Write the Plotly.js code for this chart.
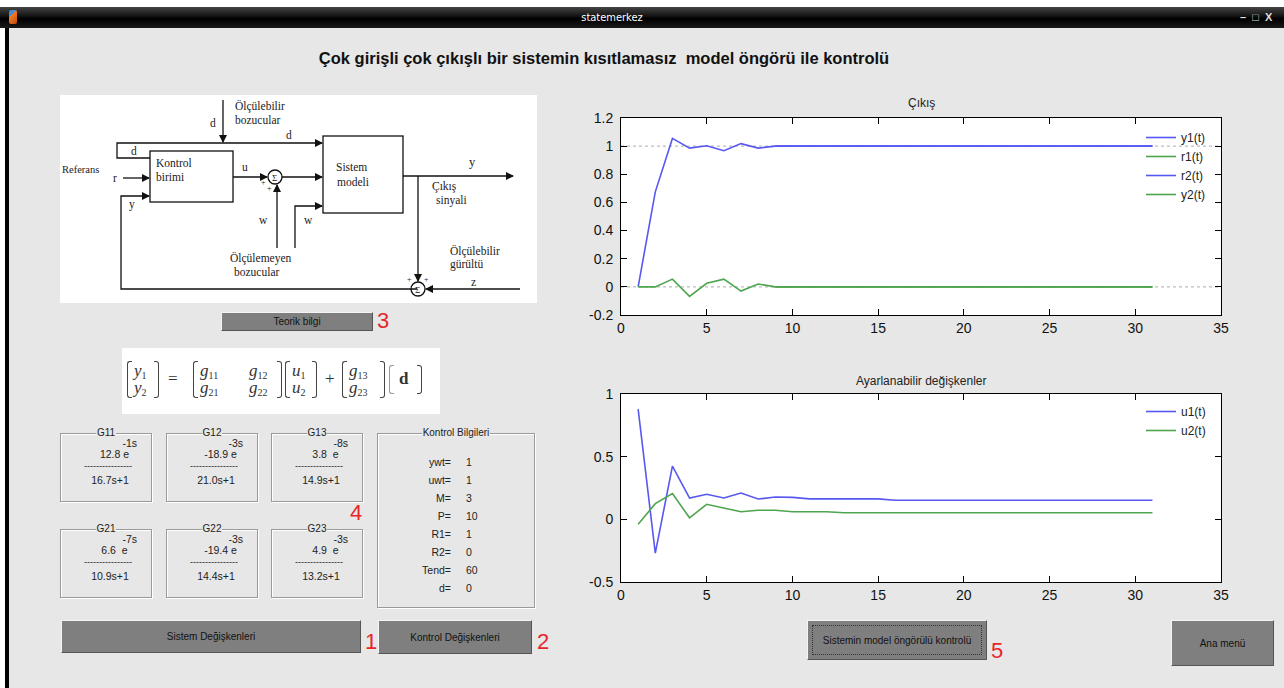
<!DOCTYPE html>
<html><head><meta charset="utf-8">
<script src="https://cdn.plot.ly/plotly-3.0.1.min.js"></script>
<style>
html,body{margin:0;padding:0;}
body{width:1284px;height:688px;position:relative;overflow:hidden;background:#e7e7e7;font-family:"Liberation Sans",Arial,sans-serif;}
.abs{position:absolute;}
#topwhite{left:0;top:0;width:1284px;height:7px;background:#fff;}
#titlebar{left:0;top:7px;width:1284px;height:21px;background:linear-gradient(#444 0%,#111 45%,#000 55%,#1a1a1a 100%);}
#titletext{left:0;top:7px;width:1224px;height:21px;line-height:21px;text-align:center;color:#fff;font-size:11px;font-family:"DejaVu Sans Condensed","Liberation Sans Narrow",sans-serif;}
#leftwhite{left:0;top:28px;width:5px;height:660px;background:#fff;}
#leftblack{left:5px;top:28px;width:4px;height:660px;background:#000;}
#heading{left:0;top:49px;width:1208px;text-align:center;font-size:16.5px;font-weight:bold;color:#111;white-space:pre;}
.btn{background:#7f7f7f;border-top:1px solid #f4f4f4;border-left:1px solid #f4f4f4;border-right:1px solid #555;border-bottom:1px solid #555;box-sizing:border-box;color:#111;font-size:10px;text-align:center;display:flex;align-items:center;justify-content:center;}
.red{color:#e8262a;font-size:22px;font-family:"Liberation Sans",Arial,sans-serif;}
.grp{border:1px solid #9a9a9a;box-shadow:1px 1px 0 #fff inset,1px 1px 0 #fff;box-sizing:border-box;}
.grpt{position:absolute;top:-7px;left:0;width:100%;text-align:center;font-size:10px;line-height:12px;color:#222;}
.grpt span{background:#e7e7e7;padding:0 1px;}
.gt{position:absolute;font-size:10.5px;color:#222;line-height:11px;white-space:pre;}
#diag{left:60px;top:95px;width:477px;height:208px;background:#fff;}
#eqbox{left:122px;top:348px;width:318px;height:66px;background:#fff;}
.br{position:absolute;border:1.4px solid #444;box-sizing:border-box;}
.bl{border-right:none;width:5px;border-radius:3px 0 0 3px;}
.bR{border-left:none;width:5px;border-radius:0 3px 3px 0;}
.cell{position:absolute;font-family:"Liberation Serif","DejaVu Serif",serif;font-style:italic;font-size:17px;color:#333;line-height:16px;}
.cell sub{font-size:10px;font-style:normal;vertical-align:-3px;}
#plot{left:0;top:0;width:1284px;height:688px;}
</style></head>
<body>
<div class="abs" id="topwhite"></div>
<div class="abs" id="titlebar"></div>
<div class="abs" style="left:9px;top:10px;width:8px;height:14px;background:linear-gradient(135deg,#4a8ad0 0%,#4a8ad0 35%,#f07b21 36%,#c04a10 100%);border-radius:2px;"></div>
<div class="abs" id="titletext">statemerkez</div>
<div class="abs" style="left:1240px;top:11px;width:40px;height:14px;color:#ddd;font-size:11px;font-weight:bold;">&#8211;&nbsp;&nbsp;&#9633;&nbsp;&nbsp;X</div>
<div class="abs" id="leftwhite"></div>
<div class="abs" id="leftblack"></div>
<div class="abs" id="heading"></div>

<div class="abs" id="diag">
<svg width="477" height="208" viewBox="0 0 477 208" xmlns="http://www.w3.org/2000/svg" font-family="Liberation Serif, DejaVu Serif, serif" font-size="11.5" fill="#222">
<defs><marker id="ar" markerWidth="8" markerHeight="8" refX="7" refY="4" orient="auto" markerUnits="userSpaceOnUse"><path d="M0,0 L8,4 L0,8 z" fill="#111"/></marker></defs>
<g stroke="#111" stroke-width="1.3" fill="none">
<rect x="90" y="56" width="83" height="51"/>
<rect x="263" y="41" width="80" height="77"/>
<line x1="163" y1="5" x2="163" y2="47" marker-end="url(#ar)"/>
<polyline points="90,63 57,63 57,48 262,48" marker-end="url(#ar)"/>
<line x1="63" y1="83" x2="89" y2="83" marker-end="url(#ar)"/>
<polyline points="357,194 61,194 61,101 89,101" marker-end="url(#ar)"/>
<line x1="173" y1="82" x2="207" y2="82" marker-end="url(#ar)"/>
<circle cx="215" cy="82" r="7"/>
<line x1="222" y1="82" x2="262" y2="82" marker-end="url(#ar)"/>
<line x1="217" y1="153" x2="217" y2="90" marker-end="url(#ar)"/>
<polyline points="235,153 235,111 262,111" marker-end="url(#ar)"/>
<line x1="343" y1="81" x2="453" y2="81" marker-end="url(#ar)"/>
<line x1="358" y1="81" x2="358" y2="186" marker-end="url(#ar)"/>
<circle cx="358" cy="194" r="7"/>
<line x1="460" y1="194" x2="366" y2="194" marker-end="url(#ar)"/>
</g>
<text x="212" y="86" font-size="9">&#931;</text>
<text x="355" y="198" font-size="9">&#931;</text>
<text x="201" y="90" font-size="8">+</text>
<text x="207" y="96" font-size="8">+</text>
<text x="347" y="187" font-size="8">+</text>
<text x="364" y="187" font-size="8">+</text>
<text x="175" y="15">Ölçülebilir</text>
<text x="175" y="29">bozucular</text>
<text x="150" y="32">d</text>
<text x="226" y="44">d</text>
<text x="71" y="60">d</text>
<text x="2" y="78" font-size="10.5">Referans</text>
<text x="53" y="87">r</text>
<text x="69" y="113">y</text>
<text x="96" y="72">Kontrol</text>
<text x="96" y="86">birimi</text>
<text x="182" y="76">u</text>
<text x="276" y="76">Sistem</text>
<text x="277" y="91">modeli</text>
<text x="409" y="71" font-size="12.5">y</text>
<text x="372" y="95">Çıkış</text>
<text x="376" y="109">sinyali</text>
<text x="199" y="129">w</text>
<text x="244" y="129">w</text>
<text x="170" y="167">Ölçülemeyen</text>
<text x="174" y="181">bozucular</text>
<text x="390" y="160">Ölçülebilir</text>
<text x="390" y="173">gürültü</text>
<text x="411" y="191">z</text>
</svg>
</div>

<div class="abs btn" style="left:221px;top:312px;width:152px;height:19px;">Teorik bilgi</div>
<div class="abs red" style="left:377px;top:308px;">3</div>

<div class="abs" id="eqbox">
  <div class="br bl" style="left:5px;top:13px;height:37px;"></div>
  <div class="cell" style="left:12px;top:15px;">y<sub>1</sub></div>
  <div class="cell" style="left:12px;top:32px;">y<sub>2</sub></div>
  <div class="br bR" style="left:32px;top:13px;height:37px;"></div>
  <div class="cell" style="left:46px;top:23px;font-style:normal;">=</div>
  <div class="br bl" style="left:71px;top:13px;height:37px;"></div>
  <div class="cell" style="left:78px;top:15px;">g<sub>11</sub></div>
  <div class="cell" style="left:78px;top:32px;">g<sub>21</sub></div>
  <div class="cell" style="left:127px;top:15px;">g<sub>12</sub></div>
  <div class="cell" style="left:127px;top:32px;">g<sub>22</sub></div>
  <div class="br bR" style="left:155px;top:13px;height:37px;"></div>
  <div class="br bl" style="left:163px;top:13px;height:37px;"></div>
  <div class="cell" style="left:170px;top:15px;">u<sub>1</sub></div>
  <div class="cell" style="left:170px;top:32px;">u<sub>2</sub></div>
  <div class="br bR" style="left:190px;top:13px;height:37px;"></div>
  <div class="cell" style="left:203px;top:23px;font-style:normal;">+</div>
  <div class="br bl" style="left:220px;top:13px;height:37px;"></div>
  <div class="cell" style="left:227px;top:15px;">g<sub>13</sub></div>
  <div class="cell" style="left:227px;top:32px;">g<sub>23</sub></div>
  <div class="br bR" style="left:258px;top:13px;height:37px;"></div>
  <div class="br bl" style="left:267px;top:17px;height:29px;border-color:#999;"></div>
  <div class="cell" style="left:277px;top:23px;font-style:normal;font-weight:bold;">d</div>
  <div class="br bR" style="left:295px;top:17px;height:29px;"></div>
</div>

<div id="gboxes"></div>
<div class="abs red" style="left:350px;top:500px;">4</div>

<div class="abs btn" style="left:61px;top:620px;width:300px;height:33px;">Sistem Değişkenleri</div>
<div class="abs red" style="left:365px;top:629px;">1</div>
<div class="abs btn" style="left:378px;top:620px;width:154px;height:34px;">Kontrol Değişkenleri</div>
<div class="abs red" style="left:537px;top:629px;">2</div>
<div class="abs btn" style="left:807px;top:620px;width:180px;height:40px;"><div style="border:1px dotted #333;position:absolute;left:4px;top:4px;right:4px;bottom:4px;"></div>Sistemin model öngörülü kontrolü</div>
<div class="abs red" style="left:991px;top:638px;">5</div>
<div class="abs btn" style="left:1171px;top:620px;width:103px;height:46px;">Ana menü</div>

<div class="abs" id="plot"></div>

<script>
// ---------- GUI text data ----------
const headingText = "Çok girişli çok çıkışlı bir sistemin kısıtlamasız  model öngörü ile kontrolü";
const gNames  = ["G11","G12","G13","G21","G22","G23"];
const gGains  = ["12.8 e","-18.9 e","3.8  e","6.6  e","-19.4 e","4.9  e"];
const gDelays = ["-1s","-3s","-8s","-7s","-3s","-3s"];
const gDens   = ["16.7s+1","21.0s+1","14.9s+1","10.9s+1","14.4s+1","13.2s+1"];
const kbLabels = ["ywt=","uwt=","M=","P=","R1=","R2=","Tend=","d="];
const kbValues = ["1","1","3","10","1","0","60","0"];

// ---------- chart data ----------
const t = [1,2,3,4,5,6,7,8,9,10,11,12,13,14,15,16,17,18,19,20,21,22,23,24,25,26,27,28,29,30,31];
const y1 = [0,0.675,1.055,0.986,1.003,0.968,1.018,0.986,1.0,1,1,1,1,1,1,1,1,1,1,1,1,1,1,1,1,1,1,1,1,1,1];
const r1 = [null,null,null,null,null,null,null,null,0,0,0,0,0,0,0,0,0,0,0,0,0,0,0,0,0,0,0,0,0,0,0];
const r2 = [null,null,null,null,null,null,null,null,1,1,1,1,1,1,1,1,1,1,1,1,1,1,1,1,1,1,1,1,1,1,1];
const y2 = [0,0,0.055,-0.068,0.025,0.055,-0.03,0.02,0,0,0,0,0,0,0,0,0,0,0,0,0,0,0,0,0,0,0,0,0,0,0];
const refX = [0,35];
const refHigh = [1,1];
const refLow = [0,0];
const u1 = [0.88,-0.27,0.425,0.17,0.2,0.17,0.21,0.162,0.178,0.175,0.163,0.163,0.163,0.163,0.163,0.152,0.152,0.152,0.152,0.152,0.152,0.152,0.152,0.152,0.152,0.152,0.152,0.152,0.152,0.152,0.152];
const u2 = [-0.04,0.125,0.205,0.012,0.12,0.088,0.06,0.072,0.072,0.061,0.061,0.061,0.053,0.053,0.053,0.053,0.053,0.053,0.053,0.053,0.053,0.053,0.053,0.053,0.053,0.053,0.053,0.053,0.053,0.053,0.053];
const xTicks = [0,5,10,15,20,25,30,35];
const yTicks1 = [-0.2,0,0.2,0.4,0.6,0.8,1,1.2];
const yTickText1 = ["-0.2","0","0.2","0.4","0.6","0.8","1","1.2"];
const yTicks2 = [-0.5,0,0.5,1];
const yTickText2 = ["-0.5","0","0.5","1"];
const title1 = "Çıkış";
const title2 = "Ayarlanabilir değişkenler";

// ---------- build GUI ----------
document.getElementById('heading').textContent = headingText;
const gb = document.getElementById('gboxes');
const boxPos = [[60,433],[166,433],[271,433],[60,529],[166,529],[271,529]];
gNames.forEach((n,i)=>{
  const d=document.createElement('div');
  d.className='abs grp';
  d.style.left=boxPos[i][0]+'px'; d.style.top=boxPos[i][1]+'px';
  d.style.width='92px'; d.style.height='69px';
  d.innerHTML='<div class="grpt"><span>'+n+'</span></div>'+
    '<div class="gt" style="left:0;width:76px;text-align:right;top:4px;">'+gDelays[i]+'</div>'+
    '<div class="gt" style="left:0;width:107px;text-align:center;top:15px;">'+gGains[i]+'</div>'+
    '<div class="gt" style="left:23px;top:28px;font-size:9px;line-height:9px;">----------------</div>'+
    '<div class="gt" style="left:0;width:98px;text-align:center;top:41px;">'+gDens[i]+'</div>';
  gb.appendChild(d);
});
const kb=document.createElement('div');
kb.className='abs grp';
kb.style.cssText='left:377px;top:433px;width:158px;height:175px;';
let kbHtml='<div class="grpt"><span>Kontrol Bilgileri</span></div>';
kbLabels.forEach((l,i)=>{
  kbHtml+='<div class="gt" style="left:0;width:73px;text-align:right;top:'+(23+i*18)+'px;">'+l+'</div>';
  kbHtml+='<div class="gt" style="left:88px;top:'+(23+i*18)+'px;">'+kbValues[i]+'</div>';
});
kb.innerHTML=kbHtml;
gb.appendChild(kb);

// ---------- chart ----------
const W=1284,H=688;
const fx=p=>p/W, fy=p=>1-p/H;
const BLUE='#5757f2', GREEN='#4ea54e';
const traces=[
  {x:refX,y:refHigh,xaxis:'x',yaxis:'y',mode:'lines',line:{color:'#bdbdbd',width:1.2,dash:'dot'},showlegend:false,hoverinfo:'skip'},
  {x:refX,y:refLow,xaxis:'x',yaxis:'y',mode:'lines',line:{color:'#bdbdbd',width:1.2,dash:'dot'},showlegend:false,hoverinfo:'skip'},
  {x:t,y:y1,name:'y1(t)',xaxis:'x',yaxis:'y',mode:'lines',line:{color:BLUE,width:1.6},legend:'legend'},
  {x:t,y:r1,name:'r1(t)',xaxis:'x',yaxis:'y',mode:'lines',line:{color:GREEN,width:1.6},legend:'legend'},
  {x:t,y:r2,name:'r2(t)',xaxis:'x',yaxis:'y',mode:'lines',line:{color:BLUE,width:1.6},legend:'legend'},
  {x:t,y:y2,name:'y2(t)',xaxis:'x',yaxis:'y',mode:'lines',line:{color:GREEN,width:1.6},legend:'legend'},
  {x:t,y:u1,name:'u1(t)',xaxis:'x2',yaxis:'y2',mode:'lines',line:{color:BLUE,width:1.6},legend:'legend2'},
  {x:t,y:u2,name:'u2(t)',xaxis:'x2',yaxis:'y2',mode:'lines',line:{color:GREEN,width:1.6},legend:'legend2'}
];
const axBase={showgrid:false,zeroline:false,showline:true,linecolor:'#000',linewidth:1,mirror:'ticks',ticks:'inside',ticklen:6,tickcolor:'#000',tickfont:{family:'Liberation Sans, Arial',size:14,color:'#111'},fixedrange:true};
const layout={
  width:W,height:H,margin:{l:0,r:0,t:0,b:0},
  paper_bgcolor:'rgba(0,0,0,0)',plot_bgcolor:'#fff',
  font:{family:'Liberation Sans, Arial',color:'#111'},
  xaxis:Object.assign({},axBase,{domain:[fx(621),fx(1221)],range:[0,35],tickmode:'array',tickvals:xTicks,ticktext:xTicks.map(String),anchor:'y'}),
  yaxis:Object.assign({},axBase,{domain:[fy(315),fy(118)],range:[-0.2,1.2],tickmode:'array',tickvals:yTicks1,ticktext:yTickText1,anchor:'x',ticklabelstandoff:4}),
  xaxis2:Object.assign({},axBase,{domain:[fx(621),fx(1221)],range:[0,35],tickmode:'array',tickvals:xTicks,ticktext:xTicks.map(String),anchor:'y2'}),
  yaxis2:Object.assign({},axBase,{domain:[fy(582),fy(394)],range:[-0.5,1],tickmode:'array',tickvals:yTicks2,ticktext:yTickText2,anchor:'x2',ticklabelstandoff:4}),
  legend:{x:fx(1141),y:fy(123),xanchor:'left',yanchor:'top',bgcolor:'rgba(255,255,255,0)',font:{size:12,color:'#222'},tracegroupgap:0,itemwidth:30},
  legend2:{x:fx(1141),y:fy(397),xanchor:'left',yanchor:'top',bgcolor:'rgba(255,255,255,0)',font:{size:12,color:'#222'},itemwidth:30},
  annotations:[
    {text:title1,x:fx(921),y:fy(103),xref:'paper',yref:'paper',showarrow:false,font:{size:12,color:'#222'},xanchor:'center',yanchor:'middle'},
    {text:title2,x:fx(921),y:fy(381),xref:'paper',yref:'paper',showarrow:false,font:{size:12,color:'#222'},xanchor:'center',yanchor:'middle'}
  ]
};
Plotly.newPlot('plot',traces,layout,{displayModeBar:false,staticPlot:true});
</script>
</body></html>
